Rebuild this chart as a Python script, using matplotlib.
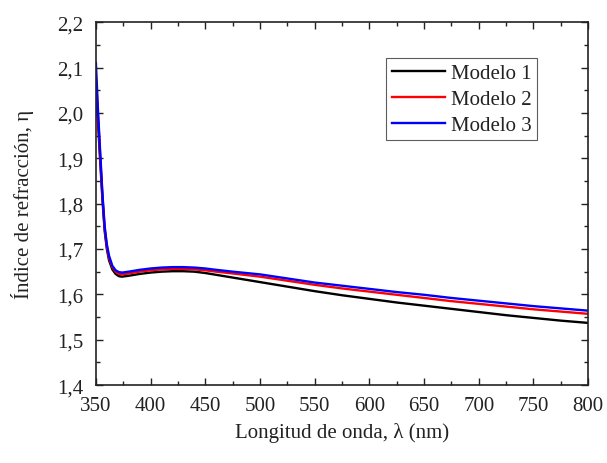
import matplotlib
matplotlib.use("Agg")
import matplotlib.pyplot as plt
from matplotlib.ticker import MultipleLocator, FuncFormatter

plt.rcParams['font.family'] = ['Liberation Serif', 'DejaVu Serif']

# Wavelength (nm)
wavelength = [350, 352, 354, 356, 358, 360, 362, 365, 368, 371, 374, 380, 390, 400,
              410, 420, 430, 440, 450, 460, 475, 500, 525, 550, 575, 600, 625, 650,
              675, 700, 725, 750, 775, 800]

# Refractive index for each model
modelo_1 = [2.050, 1.975, 1.890, 1.808, 1.740, 1.700, 1.675, 1.655, 1.645, 1.640, 1.639,
            1.641, 1.645, 1.648, 1.650, 1.651, 1.651, 1.650, 1.647, 1.643, 1.637, 1.627,
            1.617, 1.607, 1.598, 1.590, 1.582, 1.575, 1.568, 1.561, 1.554, 1.548, 1.542,
            1.537]
modelo_2 = [2.080, 1.990, 1.900, 1.815, 1.745, 1.705, 1.680, 1.660, 1.650, 1.645, 1.644,
            1.646, 1.650, 1.653, 1.655, 1.656, 1.656, 1.655, 1.653, 1.650, 1.646, 1.639,
            1.630, 1.621, 1.613, 1.606, 1.599, 1.592, 1.585, 1.579, 1.573, 1.567, 1.562,
            1.557]
modelo_3 = [2.110, 2.000, 1.910, 1.820, 1.750, 1.710, 1.685, 1.663, 1.653, 1.649, 1.648,
            1.650, 1.654, 1.657, 1.659, 1.660, 1.660, 1.659, 1.657, 1.654, 1.650, 1.644,
            1.635, 1.626, 1.619, 1.612, 1.605, 1.599, 1.592, 1.586, 1.580, 1.574, 1.569,
            1.564]

series_labels = ["Modelo 1", "Modelo 2", "Modelo 3"]
series_colors = ["black", "#ff0000", "#0000ff"]

fig = plt.figure(figsize=(6.07, 4.64), dpi=100)
ax = fig.add_axes([0.158, 0.168, 0.811, 0.782])

for y, lab, col in zip([modelo_1, modelo_2, modelo_3], series_labels, series_colors):
    ax.plot(wavelength, y, color=col, lw=1.7, label=lab)

ax.set_xlim(350, 800)
ax.set_ylim(1.4, 2.2)
ax.xaxis.set_major_locator(MultipleLocator(50))
ax.xaxis.set_minor_locator(MultipleLocator(25))
ax.yaxis.set_major_locator(MultipleLocator(0.1))
ax.yaxis.set_minor_locator(MultipleLocator(0.05))
ax.yaxis.set_major_formatter(FuncFormatter(lambda v, p: f"{v:.1f}".replace('.', ',')))

ax.tick_params(which='both', direction='in', top=True, right=True, labelsize=15,
               width=1.0, colors='#222222', labelcolor='#222222')
ax.tick_params(which='major', length=5)
ax.tick_params(axis='x', which='major', pad=8)
ax.tick_params(axis='y', which='major', pad=9)
ax.tick_params(which='minor', length=3)
for s in ax.spines.values():
    s.set_linewidth(1.2)
    s.set_color('#222222')

ax.set_xlabel("Longitud de onda, λ (nm)", fontsize=15, labelpad=5, color='#222222')
ax.set_ylabel("Índice de refracción, η", fontsize=15, labelpad=17, color='#222222')

leg = ax.legend(loc='upper left', bbox_to_anchor=(0.590, 0.900), fontsize=15,
                frameon=True, fancybox=False, handlelength=2.55, handletextpad=0.3,
                borderpad=0.25, labelspacing=0.3, borderaxespad=0)
leg.get_frame().set_edgecolor('#333333')
leg.get_frame().set_linewidth(0.8)
for t in leg.get_texts():
    t.set_color('#222222')

fig.savefig("out.png", dpi=100)
